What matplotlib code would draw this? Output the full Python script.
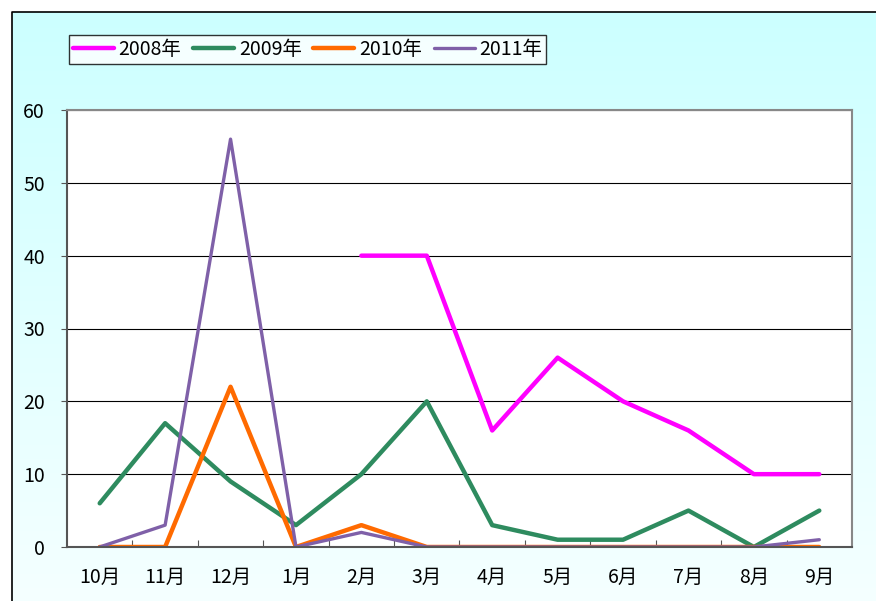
import numpy as np
import matplotlib.pyplot as plt

plt.rcParams['font.family'] = ['Noto Sans CJK JP', 'DejaVu Sans']

months = ['10月', '11月', '12月', '1月', '2月', '3月', '4月', '5月', '6月', '7月', '8月', '9月']
y2008 = [np.nan, np.nan, np.nan, np.nan, 40, 40, 16, 26, 20, 16, 10, 10]
y2009 = [6, 17, 9, 3, 10, 20, 3, 1, 1, 5, 0, 5]
y2010 = [0, 0, 22, 0, 3, 0, 0, 0, 0, 0, 0, 0]
y2011 = [0, 3, 56, 0, 2, 0, 0, 0, 0, 0, 0, 1]
series_names = ['2008年', '2009年', '2010年', '2011年']

fig = plt.figure(figsize=(8.76, 6.01), dpi=100)

# background panel with vertical cyan gradient
bg = fig.add_axes([0, 0, 1, 1], zorder=-10)
bg.set_xlim(0, 876)
bg.set_ylim(601, 0)
bg.axis('off')
grad = np.linspace(0, 1, 256).reshape(-1, 1)
top = np.array([0.80, 1.0, 1.0])
bot = np.array([0.96, 1.0, 1.0])
img = (top + grad[..., None] * (bot - top)).reshape(256, 1, 3)
bg.imshow(img, extent=[12, 876, 601, 12], aspect='auto', zorder=0)
bg.plot([12, 12, 876], [601, 12, 12], color='black', lw=1.2, zorder=1)

ax = fig.add_axes([67/876, 54/601, 785/876, 437/601])
ax.set_facecolor('white')
x = np.arange(len(months))
ax.plot(x, y2008, color='#ff00ff', lw=3.2, label=series_names[0], solid_capstyle='round')
ax.plot(x, y2009, color='#2e8b5f', lw=3.2, label=series_names[1], solid_capstyle='round')
ax.plot(x, y2010, color='#ff6a00', lw=3.2, label=series_names[2], solid_capstyle='round')
ax.plot(x, y2011, color='#7f60a8', lw=2.4, label=series_names[3], solid_capstyle='round')

ax.set_xlim(-0.5, len(months) - 0.5)
ax.set_ylim(0, 60)
ax.set_yticks(range(0, 61, 10))
ax.yaxis.grid(True, color='black', lw=0.8)
ax.set_axisbelow(True)
ax.set_xticks(np.arange(0.5, len(months) - 0.5))
ax.set_xticklabels([])
ax.set_xticks(x, minor=True)
ax.set_xticklabels(months, minor=True, fontsize=14)
ax.tick_params(axis='x', which='major', direction='in', length=5, color='#555555')
ax.tick_params(axis='x', which='minor', length=0, pad=14)
ax.tick_params(axis='y', direction='out', length=4, labelsize=14, color='#555555', pad=12)
for s in ['left', 'bottom']:
    ax.spines[s].set_color('#555555')
    ax.spines[s].set_linewidth(1.5)
for s in ['top', 'right']:
    ax.spines[s].set_color('#888888')
    ax.spines[s].set_linewidth(1.5)

leg = fig.legend(loc='upper left', bbox_to_anchor=(69/876, 1 - 35/601), ncol=4,
                 fontsize=14, frameon=True, fancybox=False, handlelength=2.1,
                 handletextpad=0.25, columnspacing=0.6, borderpad=0.2, borderaxespad=0)
leg.get_frame().set_edgecolor('black')
leg.get_frame().set_linewidth(1.0)
leg.get_frame().set_facecolor('white')

fig.savefig('out.png', dpi=100)
